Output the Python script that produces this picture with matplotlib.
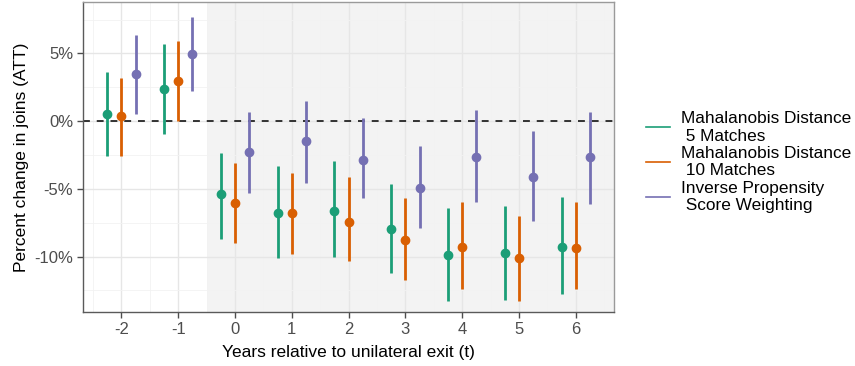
import matplotlib
matplotlib.use("Agg")
import matplotlib.pyplot as plt
from matplotlib.lines import Line2D

plt.rcParams['font.family'] = ['Liberation Sans', 'DejaVu Sans']

years = [-2, -1, 0, 1, 2, 3, 4, 5, 6]
tick_labels = ['-2', '-1', '0', '1', '2', '3', '4', '5', '6']

labels = ['Mahalanobis Distance\n 5 Matches',
          'Mahalanobis Distance\n 10 Matches',
          'Inverse Propensity\n Score Weighting']
colors = ['#1b9e77', '#d95f02', '#7570b3']

# point estimates and 95% interval ends (percent)
md5_est = [0.5, 2.4, -5.4, -6.8, -6.65, -8.0, -9.9, -9.75, -9.3]
md5_lo = [-2.6, -0.95, -8.7, -10.1, -10.05, -11.2, -13.3, -13.2, -12.8]
md5_hi = [3.6, 5.7, -2.35, -3.3, -2.95, -4.65, -6.4, -6.3, -5.6]

md10_est = [0.4, 3.0, -6.05, -6.8, -7.45, -8.8, -9.3, -10.1, -9.35]
md10_lo = [-2.6, 0.0, -9.0, -9.8, -10.35, -11.7, -12.4, -13.3, -12.4]
md10_hi = [3.2, 5.9, -3.1, -3.8, -4.1, -5.7, -6.0, -7.0, -6.0]

ipw_est = [3.45, 4.95, -2.3, -1.5, -2.9, -4.95, -2.65, -4.1, -2.65]
ipw_lo = [0.5, 2.2, -5.3, -4.6, -5.7, -7.9, -6.0, -7.4, -6.1]
ipw_hi = [6.4, 7.7, 0.7, 1.5, 0.2, -1.85, 0.85, -0.7, 0.7]

series = [(md5_est, md5_lo, md5_hi),
          (md10_est, md10_lo, md10_hi),
          (ipw_est, ipw_lo, ipw_hi)]
offsets = [-0.25, 0.0, 0.25]

fig = plt.figure(figsize=(8.55, 3.66), dpi=100)
ax = fig.add_axes([0.0971, 0.1475, 0.6211, 0.847])

ax.set_xlim(-2.675, 6.675)
ax.set_ylim(-14.1, 8.8)

# grid
ax.set_xticks(years)
ax.set_xticks([y + 0.5 for y in years[:-1]] + [-2.5, 6.5], minor=True)
ax.set_yticks([-10, -5, 0, 5])
ax.set_yticks([-12.5, -7.5, -2.5, 2.5, 7.5], minor=True)
ax.grid(which='major', color='#e6e6e6', linewidth=1.0, zorder=0)
ax.grid(which='minor', color='#f2f2f2', linewidth=0.6, zorder=0)
ax.set_axisbelow(True)

ax.axvspan(-0.5, 6.675, facecolor='#d0d0d0', alpha=0.25, linewidth=0, zorder=0.5)

ax.axhline(0, color='black', linewidth=1.1, dashes=(4.5, 4.5), zorder=1)

for (est, lo, hi), off, col in zip(series, offsets, colors):
    xs = [y + off for y in years]
    ax.vlines(xs, lo, hi, color=col, linewidth=2.0, zorder=2)
    ax.plot(xs, est, 'o', color=col, markersize=6, zorder=3)

ax.set_xticklabels(tick_labels)
ax.set_yticklabels(['-10%', '-5%', '0%', '5%'])
ax.tick_params(which='major', length=4, width=1.0, color='#4d4d4d',
               labelcolor='#4d4d4d', labelsize=12, pad=3)
ax.tick_params(which='minor', length=0)

for side in ['left', 'bottom']:
    ax.spines[side].set_color('#5a5a5a')
    ax.spines[side].set_linewidth(1.0)
for side in ['top', 'right']:
    ax.spines[side].set_color('#9a9a9a')
    ax.spines[side].set_linewidth(1.0)

ax.set_xlabel('Years relative to unilateral exit (t)', fontsize=12.5, labelpad=6)
ax.set_ylabel('Percent change in joins (ATT)', fontsize=12.5, labelpad=4)

handles = [Line2D([0], [0], color=c, linewidth=1.2) for c in colors]
leg = fig.legend(handles, labels, loc='center left', bbox_to_anchor=(0.755, 0.557),
                 frameon=False, fontsize=12.4, handlelength=1.45, handletextpad=0.6,
                 labelspacing=0.15, borderpad=0, borderaxespad=0)
for t in leg.get_texts():
    t.set_linespacing(1.17)

fig.savefig('out.png', dpi=100)
